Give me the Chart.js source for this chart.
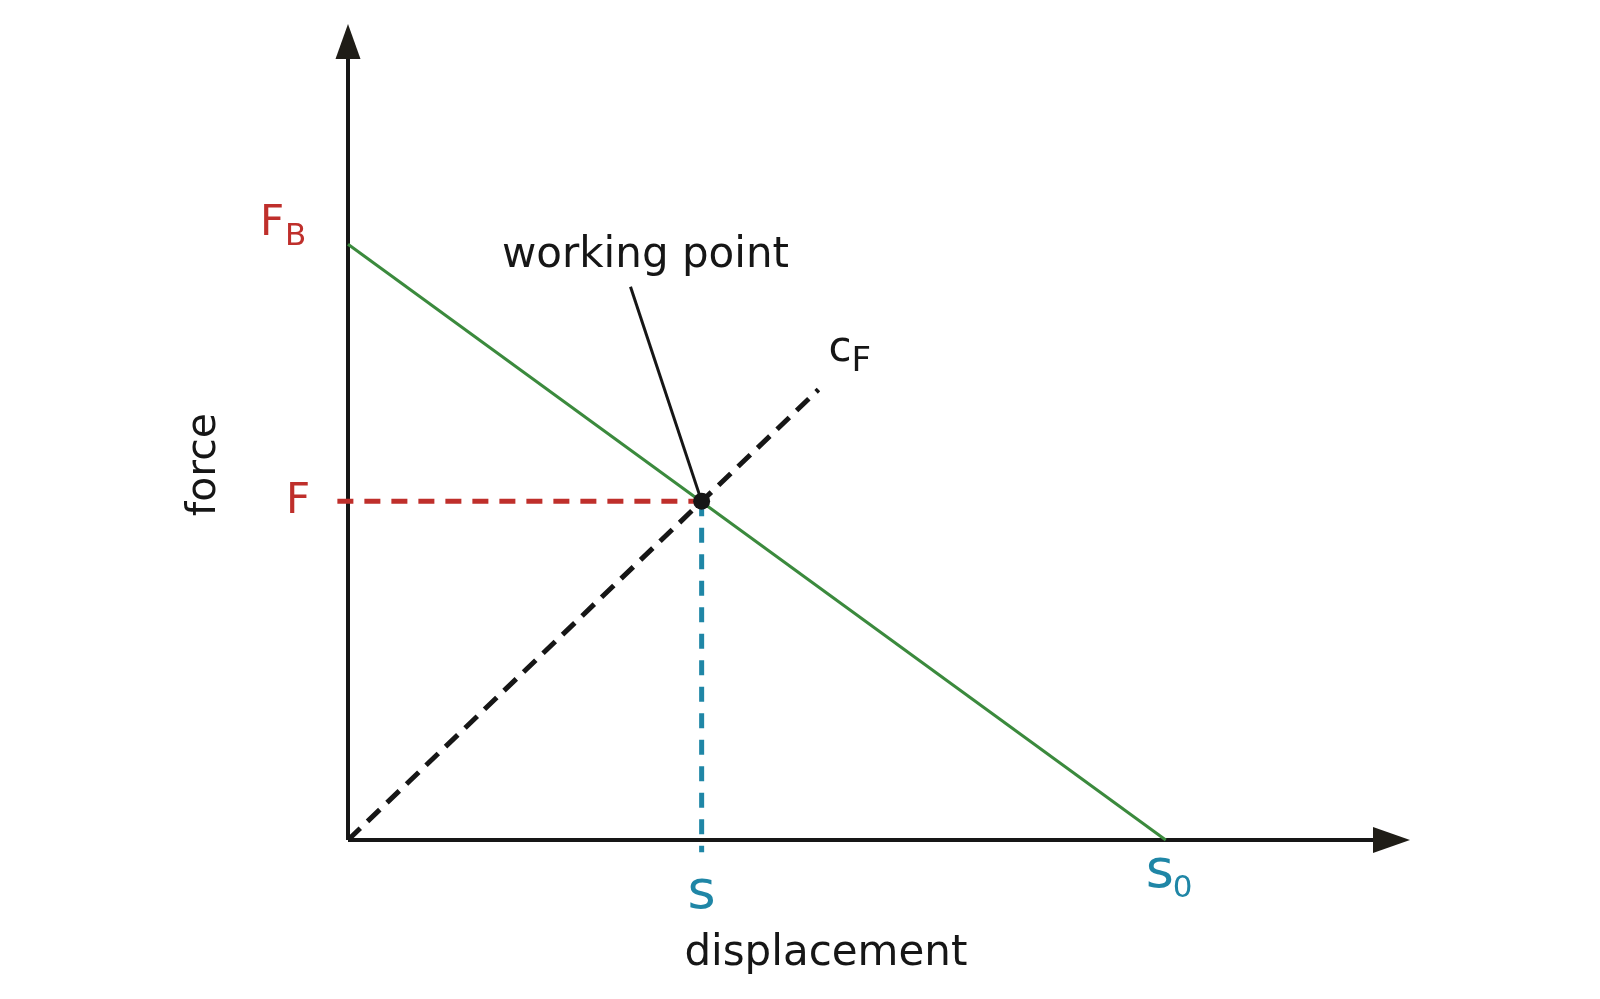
<!DOCTYPE html>
<html>
<head>
<meta charset="utf-8">
<script src="https://cdn.jsdelivr.net/npm/chart.js@4/dist/chart.umd.min.js"></script>
<style>
  html, body { margin: 0; padding: 0; background: #fff; }
  #wrap { width: 1600px; height: 999px; }
</style>
</head>
<body>
<div id="wrap"><canvas id="chart" width="1600" height="999"></canvas></div>
<script>
// axis extents (arrow tips)
const axisMax = [100, 100];           // [displacement, force]

// characteristic values
const loadLine = [[0, 73], [77, 0]];        // F_B -> s0
const springLine = [[0, 0], [44.3, 55.2]];  // c_F
const workingPoint = [33.3, 41.5];          // (s, F)
const leaderStart = [26.6, 67.8];           // end of the "working point" pointer

const RED = '#bf2f2b';
const BLUE = '#1f86a6';
const GREEN = '#3b8a3d';
const BLACK = '#161616';
const FONT = '"DejaVu Sans", sans-serif';

const pts = arr => arr.map(p => ({ x: p[0], y: p[1] }));

function lineSet(data, color, width, dash) {
    return {
        data: pts(data),
        showLine: true,
        borderColor: color,
        borderWidth: width,
        borderDash: dash || [],
        borderCapStyle: 'butt',
        pointRadius: 0,
        clip: false
    };
}

const [s, F] = workingPoint;

const arrowsAndText = {
    id: 'arrowsAndText',
    afterDatasetsDraw(chart) {
        const ctx = chart.ctx;
        const xs = chart.scales.x, ys = chart.scales.y;
        const px = v => xs.getPixelForValue(v);
        const py = v => ys.getPixelForValue(v);
        const x0 = px(0), y0 = py(0);

        ctx.save();
        // arrowheads
        ctx.fillStyle = '#1f1d17';
        const yTip = py(axisMax[1]);
        ctx.beginPath();
        ctx.moveTo(x0, yTip);
        ctx.lineTo(x0 + 12.5, yTip + 35);
        ctx.lineTo(x0 - 12.5, yTip + 35);
        ctx.closePath();
        ctx.fill();
        const xTip = px(axisMax[0]);
        ctx.beginPath();
        ctx.moveTo(xTip, y0);
        ctx.lineTo(xTip - 37, y0 - 13);
        ctx.lineTo(xTip - 37, y0 + 13);
        ctx.closePath();
        ctx.fill();

        const text = (str, x, y, size, color, align) => {
            ctx.font = size + 'px ' + FONT;
            ctx.fillStyle = color;
            ctx.textAlign = align || 'left';
            ctx.textBaseline = 'alphabetic';
            ctx.fillText(str, x, y);
        };

        // F_B
        const yFB = py(loadLine[0][1]);
        text('F', x0 - 88, yFB - 9, 42, RED);
        text('B', x0 - 63, yFB + 1, 31, RED);
        // F
        text('F', x0 - 62, py(F) + 12, 42, RED);
        // s
        text('s', px(s), y0 + 68, 54, BLUE, 'center');
        // s0
        const xS0 = px(loadLine[1][0]);
        text('s', xS0 - 20, y0 + 47, 54, BLUE);
        text('0', xS0 + 7, y0 + 57, 31, BLUE);
        // c_F
        const cx = px(springLine[1][0]), cy = py(springLine[1][1]);
        text('c', cx + 10, cy - 29, 42, BLACK);
        text('F', cx + 33, cy - 19, 34, BLACK);
        // working point
        text('working point', px(leaderStart[0]) + 15, py(leaderStart[1]) - 20, 42, BLACK, 'center');
        // axis titles
        text('displacement', px(45), y0 + 125, 42, BLACK, 'center');
        ctx.save();
        ctx.translate(x0 - 133, py(46));
        ctx.rotate(-Math.PI / 2);
        text('force', 0, 0, 41, BLACK, 'center');
        ctx.restore();
        ctx.restore();
    }
};

new Chart(document.getElementById('chart'), {
    type: 'scatter',
    data: {
        datasets: [
            {
                data: pts([workingPoint]),
                pointRadius: 8.5,
                pointBackgroundColor: BLACK,
                pointBorderWidth: 0,
                clip: false
            },
            lineSet([leaderStart, workingPoint], BLACK, 3),
            lineSet([[-1, F], [s, F]], RED, 5, [16, 11]),
            lineSet([[s, F], [s, -1.5]], BLUE, 5, [15, 11.5]),
            lineSet(springLine, BLACK, 5, [17, 10]),
            lineSet(loadLine, GREEN, 3),
            lineSet([[0, 0], [axisMax[0] - 3, 0]], BLACK, 4),
            lineSet([[0, 0], [0, axisMax[1] - 4]], BLACK, 4)
        ]
    },
    options: {
        responsive: false,
        animation: false,
        events: [],
        layout: { padding: { left: 348, right: 190, top: 24, bottom: 159 } },
        plugins: { legend: { display: false }, tooltip: { enabled: false } },
        scales: {
            x: { type: 'linear', min: 0, max: axisMax[0], display: false },
            y: { type: 'linear', min: 0, max: axisMax[1], display: false }
        }
    },
    plugins: [arrowsAndText]
});
</script>
</body>
</html>
